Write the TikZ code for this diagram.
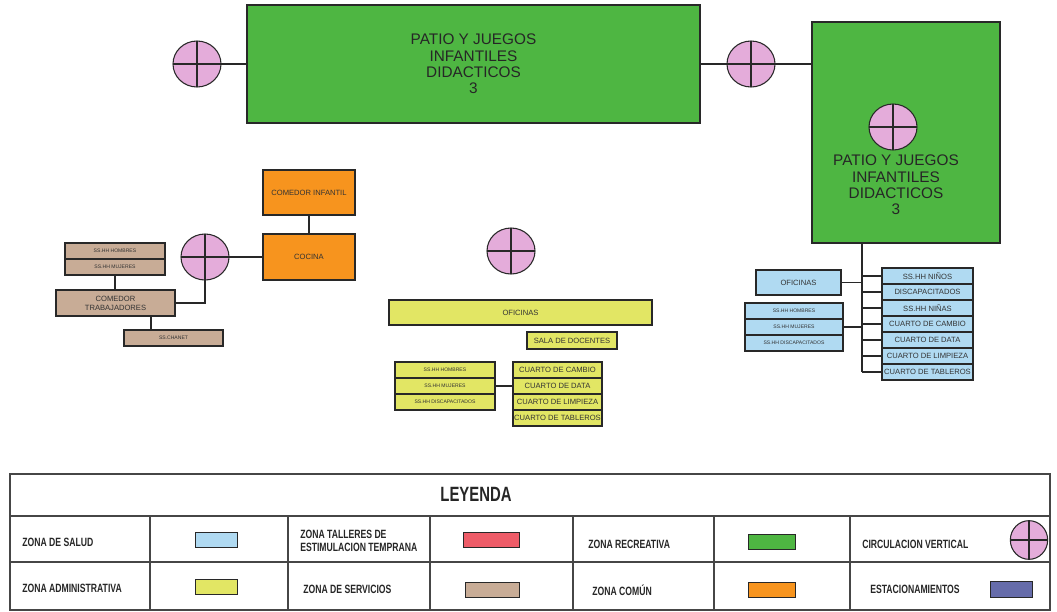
\documentclass[tikz,border=0pt]{standalone}
\usepackage{fontspec}
\setmainfont{Liberation Sans}
\newfontfamily\legf[FakeStretch=0.72]{Liberation Sans}
\usetikzlibrary{shapes.geometric,calc}
\definecolor{grn}{RGB}{78,182,66}
\definecolor{pnk}{RGB}{228,172,218}
\definecolor{org}{RGB}{247,148,30}
\definecolor{brn}{RGB}{200,172,150}
\definecolor{ylw}{RGB}{226,230,100}
\definecolor{blu}{RGB}{176,218,242}
\definecolor{rd}{RGB}{238,92,104}
\definecolor{pbl}{RGB}{102,108,170}
\definecolor{lnc}{RGB}{40,40,40}
\definecolor{tbc}{RGB}{70,70,70}
\newcommand\bx[7]{\node[#6, minimum width={(#4-#2)*0.75pt}, minimum height={(#5-#3)*0.75pt}] (#1) at ({(#2+#4)/2},{(#3+#5)/2}) {#7};}
\tikzset{
  box/.style={draw=lnc, line width=0.8pt, inner sep=0pt, outer sep=0pt, text=black!80},
  big/.style={font=\fontsize{11.5}{12.3}\selectfont, align=center, text=black!85},
  sm/.style={font=\fontsize{5.7}{6.6}\selectfont},
  tiny/.style={font=\fontsize{3.8}{4.5}\selectfont},
  ln/.style={draw=lnc, line width=0.8pt},
  circ/.style={ellipse, draw=lnc, line width=0.8pt, fill=pnk, inner sep=0pt, outer sep=0pt,
    minimum width=36pt, minimum height=34.5pt,
    path picture={\draw[lnc, line width=0.8pt] (path picture bounding box.north) -- (path picture bounding box.south)
      (path picture bounding box.west) -- (path picture bounding box.east);}},
  tbl/.style={draw=tbc, line width=0.9pt},
  lg/.style={anchor=west, inner sep=0pt, font=\legf\bfseries\fontsize{9}{10}\selectfont, align=left, text=black!85},
  sw/.style={draw=lnc, line width=0.7pt, inner sep=0pt, outer sep=0pt}
}
\begin{document}
\begin{tikzpicture}[x=0.75pt,y=-0.75pt]
\useasboundingbox (0,0) rectangle (1057,611);
% top green
\bx{g1}{247}{5}{700}{123}{box,fill=grn,big}{PATIO Y JUEGOS\\INFANTILES\\DIDACTICOS\\3}
\node[circ] (c1) at (197,64) {};
\node[circ] (c2) at (751,64) {};
\bx{g2}{812}{22}{1000}{243}{box,fill=grn}{}
\node[circ] (c4) at (893,127) {};
\node[big] (t2) at (896,185) {PATIO Y JUEGOS\\INFANTILES\\DIDACTICOS\\3};
\draw[ln] (c1.east) -- (c1.east -| g1.west);
\draw[ln] (c2.west) -- (c2.west -| g1.east);
\draw[ln] (c2.east) -- (c2.east -| g2.west);
% blue
\bx{bo}{756}{270}{841}{295}{box,fill=blu,sm}{OFICINAS}
\bx{br1}{882}{268}{973}{284}{box,fill=blu,sm}{SS.HH NIÑOS}
\bx{br2}{882}{284}{973}{300}{box,fill=blu,sm}{DISCAPACITADOS}
\bx{br3}{882}{300}{973}{316}{box,fill=blu,sm}{SS.HH NIÑAS}
\bx{br4}{882}{316}{973}{332}{box,fill=blu,sm}{CUARTO DE CAMBIO}
\bx{br5}{882}{332}{973}{348}{box,fill=blu,sm}{CUARTO DE DATA}
\bx{br6}{882}{348}{973}{364}{box,fill=blu,sm}{CUARTO DE LIMPIEZA}
\bx{br7}{882}{364}{973}{380}{box,fill=blu,sm}{CUARTO DE TABLEROS}
\bx{bl1}{745}{303}{843}{319}{box,fill=blu,tiny}{SS.HH HOMBRES}
\bx{bl2}{745}{319}{843}{335}{box,fill=blu,tiny}{SS.HH MUJERES}
\bx{bl3}{745}{335}{843}{351}{box,fill=blu,tiny}{SS.HH DISCAPACITADOS}
\coordinate (tt) at (862,0 |- g2.south);
\coordinate (tb) at (tt |- br7.west);
\draw[ln] (tt) -- (tb);
\foreach \i in {1,...,7} {\draw[ln] (tt |- br\i.west) -- (br\i.west);}
\draw[ln] (bo.east) -- (bo.east -| tt);
\draw[ln] (bl2.east) -- (bl2.east -| tt);
% orange
\bx{ci}{263}{170}{355}{215}{box,fill=org,sm}{COMEDOR INFANTIL}
\bx{co}{263}{234}{355}{280}{box,fill=org,sm}{COCINA}
\draw[ln] (ci.south) -- (co.north);
\node[circ] (c3) at (205,257) {};
\draw[ln] (c3.east) -- (c3.east -| co.west);
% brown
\bx{bs1}{65}{243}{165}{259}{box,fill=brn,tiny}{SS.HH HOMBRES}
\bx{bs2}{65}{259}{165}{275}{box,fill=brn,tiny}{SS.HH MUJERES}
\bx{ct}{56}{290}{175}{316}{box,fill=brn,sm,align=center}{COMEDOR\\TRABAJADORES}
\bx{ch}{124}{330}{223}{346}{box,fill=brn,tiny}{SS.CHANET}
\draw[ln] (bs2.south) -- (bs2.south |- ct.north);
\draw[ln] (c3.south) |- (ct.east);
\coordinate (k1) at (151,0 |- ct.south);
\draw[ln] (k1) -- (k1 |- ch.north);
% center circle
\node[circ] (c5) at (511,251) {};
% yellow
\bx{yo}{389}{300}{652}{325}{box,fill=ylw,sm}{OFICINAS}
\bx{ys}{527}{332}{617}{349}{box,fill=ylw,sm}{SALA DE DOCENTES}
\bx{yl1}{395}{362}{495}{378}{box,fill=ylw,tiny}{SS.HH HOMBRES}
\bx{yl2}{395}{378}{495}{394}{box,fill=ylw,tiny}{SS.HH MUJERES}
\bx{yl3}{395}{394}{495}{410}{box,fill=ylw,tiny}{SS.HH DISCAPACITADOS}
\bx{yr1}{513}{362}{602}{378}{box,fill=ylw,sm}{CUARTO DE CAMBIO}
\bx{yr2}{513}{378}{602}{394}{box,fill=ylw,sm}{CUARTO DE DATA}
\bx{yr3}{513}{394}{602}{410}{box,fill=ylw,sm}{CUARTO DE LIMPIEZA}
\bx{yr4}{513}{410}{602}{426}{box,fill=ylw,sm}{CUARTO DE TABLEROS}
\draw[ln] (yl2.east) -- (yl2.east -| yr2.west);
% legend
\draw[tbl] (10,474) rectangle (1050,610);
\draw[tbl] (10,516) -- (1050,516);
\draw[tbl] (10,562) -- (1050,562);
\foreach \xx in {150,288,430,573,714,850} {\draw[tbl] (\xx,516) -- (\xx,610);}
\node[lg, anchor=center, font=\legf\bfseries\fontsize{15.5}{16}\selectfont] (ley) at (476,494) {LEYENDA};
\node[lg] (l1) at (22,542) {ZONA DE SALUD};
\node[lg] (l2) at (300,541) {ZONA TALLERES DE\\ESTIMULACION TEMPRANA};
\node[lg] (l3) at (588,544) {ZONA RECREATIVA};
\node[lg] (l4) at (862,544) {CIRCULACION VERTICAL};
\node[lg] (l5) at (22,588) {ZONA ADMINISTRATIVA};
\node[lg] (l6) at (303,589) {ZONA DE SERVICIOS};
\node[lg] (l7) at (592,590) {ZONA COMÚN};
\node[lg] (l8) at (870,589) {ESTACIONAMIENTOS};
\bx{s1}{195}{532}{237}{547}{sw,fill=blu}{}
\bx{s2}{463}{532}{519}{547}{sw,fill=rd}{}
\bx{s3}{748}{534}{795}{549}{sw,fill=grn}{}
\bx{s5}{195}{579}{237}{594}{sw,fill=ylw}{}
\bx{s6}{465}{582}{519}{597}{sw,fill=brn}{}
\bx{s7}{748}{582}{795}{597}{sw,fill=org}{}
\bx{s8}{990}{581}{1032}{597}{sw,fill=pbl}{}
\node[circ, minimum width=28pt, minimum height=29pt] (s4) at (1029,540) {};
\end{tikzpicture}
\end{document}
